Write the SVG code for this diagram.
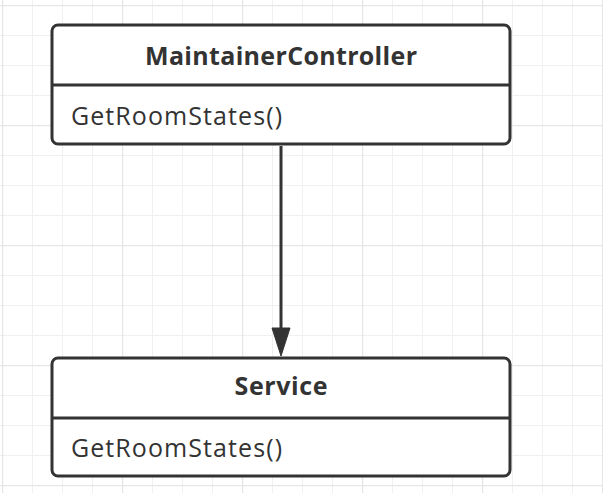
<svg xmlns="http://www.w3.org/2000/svg" width="603" height="493" viewBox="0 0 603 493">
<defs>
<pattern id="minor" width="30" height="30" patternUnits="userSpaceOnUse" x="2" y="5">
<path d="M0 0.5H30M0.5 0V30" fill="none" stroke="#f0f0f0" stroke-width="1"/>
</pattern>
<pattern id="major" width="120" height="120" patternUnits="userSpaceOnUse" x="2" y="5">
<path d="M0 0.5H120M0.5 0V120" fill="none" stroke="#e6e6e6" stroke-width="1.5"/>
</pattern>
</defs>
<style>
.box{fill:#fff;stroke:#333;stroke-width:3}
.div{stroke:#333;stroke-width:3}
.title{font-family:"Open Sans","Noto Sans",sans-serif;font-weight:bold;font-size:25px;fill:#333;text-anchor:middle}
.op{font-family:"Open Sans","Noto Sans",sans-serif;font-size:25px;fill:#333}
.edge{stroke:#333;stroke-width:3;fill:none}
.head{fill:#333;stroke:#333;stroke-width:1}
</style>
<rect width="603" height="493" fill="#fff"/>
<rect width="603" height="493" fill="url(#minor)"/>
<rect width="603" height="493" fill="url(#major)"/>
<g id="connectors">
<path class="edge" d="M281 146V330"/>
<polygon class="head" points="272,328 290,328 281,356"/>
</g>
<g id="MaintainerController">
<rect class="box" x="52" y="25" width="458" height="119" rx="6"/>
<line class="div" x1="52" y1="85" x2="510" y2="85"/>
<text class="title" x="281" y="65" textLength="272" lengthAdjust="spacing">MaintainerController</text>
<text class="op" x="71" y="125" textLength="211" lengthAdjust="spacing">GetRoomStates()</text>
</g>
<g id="Service">
<rect class="box" x="52" y="358" width="458" height="118" rx="6"/>
<line class="div" x1="52" y1="418" x2="510" y2="418"/>
<text class="title" x="281" y="395" textLength="93" lengthAdjust="spacing">Service</text>
<text class="op" x="71" y="457" textLength="211" lengthAdjust="spacing">GetRoomStates()</text>
</g>
</svg>
